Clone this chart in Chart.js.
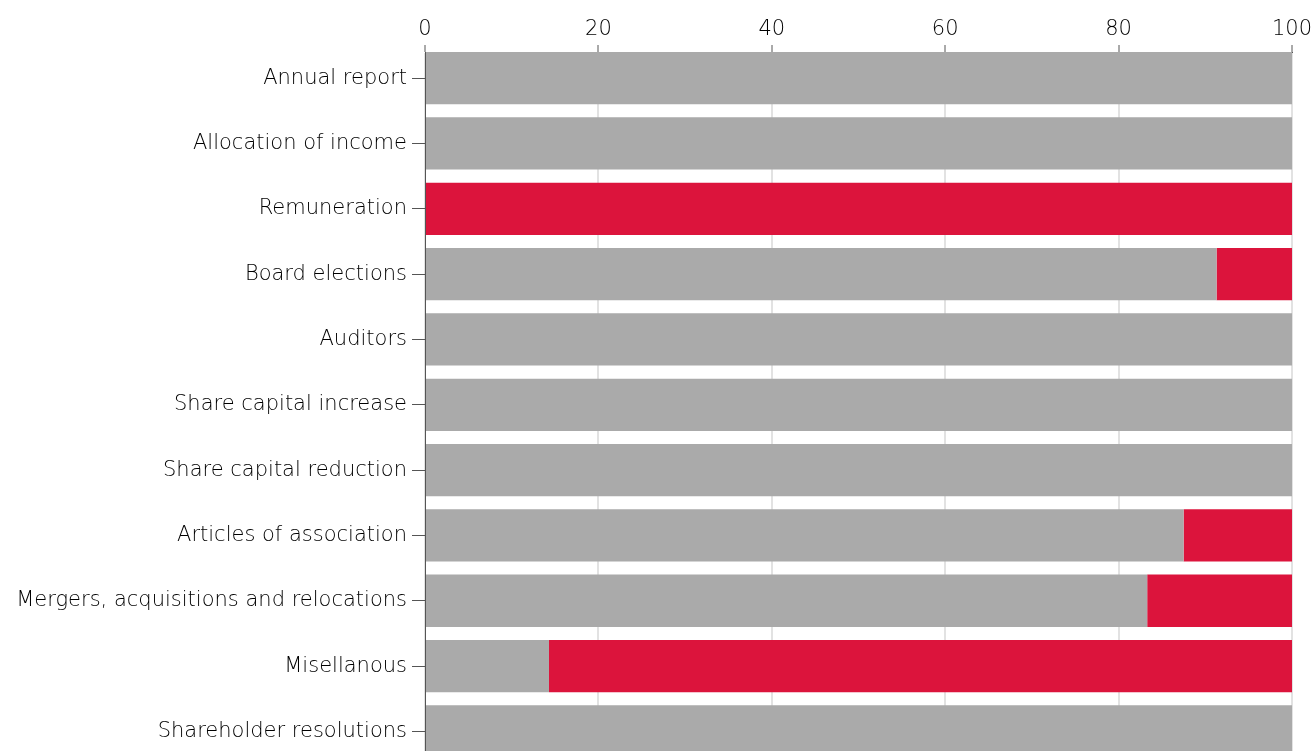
<!DOCTYPE html>
<html>
<head>
<meta charset="utf-8">
<script src="https://cdn.jsdelivr.net/npm/chart.js@4/dist/chart.umd.min.js"></script>
<style>
html, body { margin: 0; padding: 0; background: #fff; overflow: hidden; }
#wrap { width: 1314px; height: 751px; }
</style>
</head>
<body>
<div id="wrap"><canvas id="chart0"></canvas></div>
<script>
// categories, top to bottom
var categories = [
    "Annual report",
    "Allocation of income",
    "Remuneration",
    "Board elections",
    "Auditors",
    "Share capital increase",
    "Share capital reduction",
    "Articles of association",
    "Mergers, acquisitions and relocations",
    "Misellanous",
    "Shareholder resolutions"
];
// grey part (approved) and red part (rejected), in %
var greyValues = [100, 100, 0, 91.3, 100, 100, 100, 87.5, 83.3, 14.3, 100];
var redValues  = [0, 0, 100, 8.7, 0, 0, 0, 12.5, 16.7, 85.7, 0];
var xTicks = [0, 20, 40, 60, 80, 100];

var greyColor = "#aaaaaa";
var redColor  = "#dc143c";
var axisColor = "#555555";
var gridColor = "#e2e2e2";
var txtColor  = "#000000";

function toPoints(arr) {
    var out = [];
    for (var i = 0; i < arr.length; i++) {
        out.push({ x: arr[i], y: i });
    }
    return out;
}

Chart.defaults.font.family = "'DejaVu Sans', sans-serif";
Chart.defaults.font.weight = 200;
Chart.defaults.font.size = 21;
Chart.defaults.color = txtColor;

var chart = new Chart(document.getElementById("chart0"), {
    type: "bar",
    data: {
        datasets: [{
            data: toPoints(greyValues),
            backgroundColor: greyColor,
            borderWidth: 0,
            categoryPercentage: 1,
            barPercentage: 0.8
        }, {
            data: toPoints(redValues),
            backgroundColor: redColor,
            borderWidth: 0,
            categoryPercentage: 1,
            barPercentage: 0.8
        }]
    },
    options: {
        indexAxis: "y",
        animation: false,
        responsive: true,
        maintainAspectRatio: false,
        layout: { padding: { top: 0, right: 22, bottom: 0, left: 0 } },
        plugins: {
            legend: { display: false },
            tooltip: { enabled: false }
        },
        scales: {
            x: {
                type: "linear",
                position: "top",
                stacked: true,
                min: 0,
                max: 100,
                afterBuildTicks: function (scale) {
                    scale.ticks = xTicks.map(function (v) { return { value: v }; });
                },
                afterFit: function (scale) {
                    scale.height = 52;
                    scale.paddingRight = 22;
                    scale.paddingLeft = 0;
                },
                grid: {
                    color: gridColor,
                    lineWidth: 2,
                    drawTicks: true,
                    tickLength: 7,
                    tickColor: axisColor,
                    tickWidth: 1
                },
                border: { display: true, color: axisColor, width: 1 },
                ticks: { padding: 3, color: txtColor }
            },
            y: {
                type: "linear",
                reverse: true,
                stacked: true,
                offset: false,
                min: -0.4,
                max: 10.3,
                afterBuildTicks: function (scale) {
                    scale.ticks = categories.map(function (c, i) { return { value: i }; });
                },
                afterFit: function (scale) {
                    scale.width = 425;
                    scale.paddingTop = 0;
                    scale.paddingBottom = 0;
                },
                grid: {
                    offset: false,
                    drawOnChartArea: false,
                    drawTicks: true,
                    tickLength: 13,
                    tickColor: axisColor,
                    tickWidth: 1
                },
                border: { display: true, color: axisColor, width: 1 },
                ticks: {
                    padding: 5,
                    color: txtColor,
                    callback: function (value) { return categories[value]; }
                }
            }
        }
    }
});
</script>
</body>
</html>
